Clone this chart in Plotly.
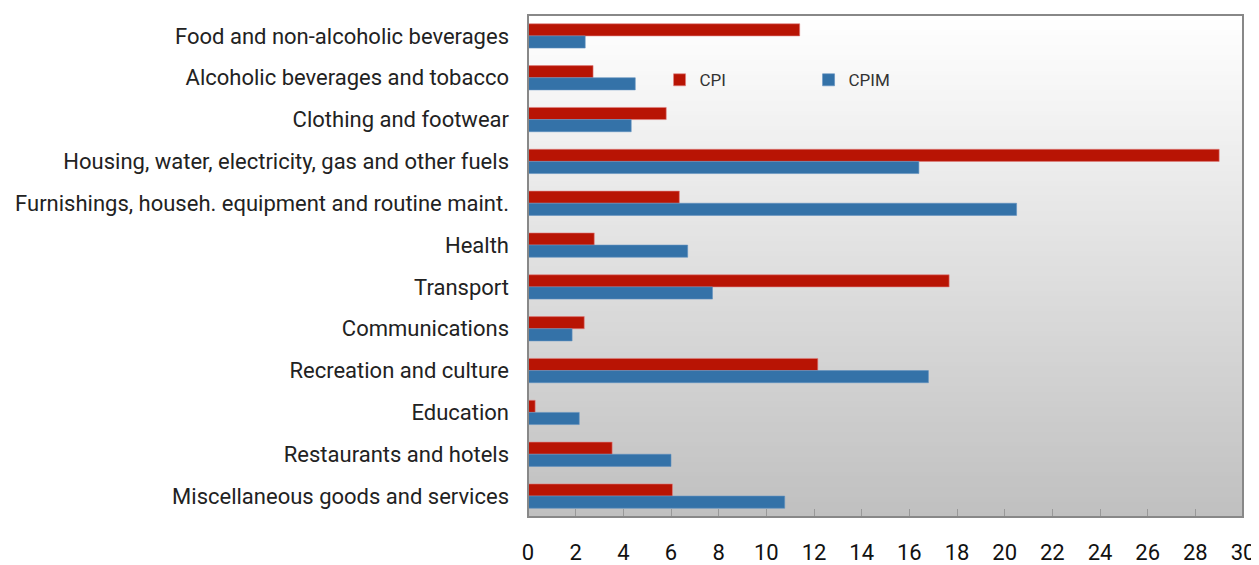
import plotly.graph_objects as go

categories = [
    "Food and non-alcoholic beverages",
    "Alcoholic beverages and tobacco",
    "Clothing and footwear",
    "Housing, water, electricity, gas and other fuels",
    "Furnishings, househ. equipment and routine maint.",
    "Health",
    "Transport",
    "Communications",
    "Recreation and culture",
    "Education",
    "Restaurants and hotels",
    "Miscellaneous goods and services",
]
cpi = [11.4, 2.73, 5.8, 29.0, 6.35, 2.78, 17.67, 2.36, 12.16, 0.3, 3.53, 6.06]
cpim = [2.4, 4.5, 4.33, 16.4, 20.5, 6.7, 7.74, 1.85, 16.8, 2.15, 6.0, 10.77]
x_ticks = list(range(0, 31, 2))

fig = go.Figure()
fig.add_trace(go.Bar(y=categories, x=cpi, name="CPI", orientation="h",
                     marker=dict(color="#B81404", line=dict(color="#E08080", width=0.6))))
fig.add_trace(go.Bar(y=categories, x=cpim, name="CPIM", orientation="h",
                     marker=dict(color="#3472A8", line=dict(color="#6090C0", width=0.6))))

# vertical gradient background for plot area (cumulative rects, no seams)
shapes = []
n = 100
for i in range(n):
    t = i / (n - 1)
    v = int(round(255 - (255 - 192) * t))
    shapes.append(dict(type="rect", xref="x domain", yref="y domain",
                       x0=0, x1=1, y0=0, y1=1 - i / n,
                       fillcolor=f"rgb({v},{v},{v})", line=dict(width=0), layer="below"))
shapes.append(dict(type="rect", xref="x domain", yref="y domain", x0=0, x1=1, y0=0, y1=1,
                   line=dict(color="#888888", width=2), fillcolor="rgba(0,0,0,0)"))
fig.update_layout(
    template="none",
    width=1251, height=557,
    margin=dict(l=520, r=16, t=7, b=48),
    paper_bgcolor="white", plot_bgcolor="rgba(0,0,0,0)",
    barmode="group", bargap=0.42, bargroupgap=0,
    shapes=shapes,
    font=dict(family="Roboto", color="#222222"),
    legend=dict(orientation="h", x=0.184, y=0.87, xanchor="left", yanchor="middle",
                bgcolor="rgba(0,0,0,0)", font=dict(size=17, color="#333333"),
                entrywidth=104, itemwidth=30, traceorder="normal"),
    xaxis=dict(range=[0, 30], tickvals=x_ticks, ticks="inside", ticklen=8, tickcolor="#999999",
               showgrid=False, zeroline=False, showline=False, automargin=False,
               ticklabeloverflow="allow",
               tickfont=dict(size=22, color="#111111"), ticklabelstandoff=20),
    yaxis=dict(autorange="reversed", showgrid=False, zeroline=False, showline=False,
               automargin=False, ticks="", tickfont=dict(size=22, color="#222222"),
               ticklabelstandoff=18),
)
fig.write_html("out.html")
